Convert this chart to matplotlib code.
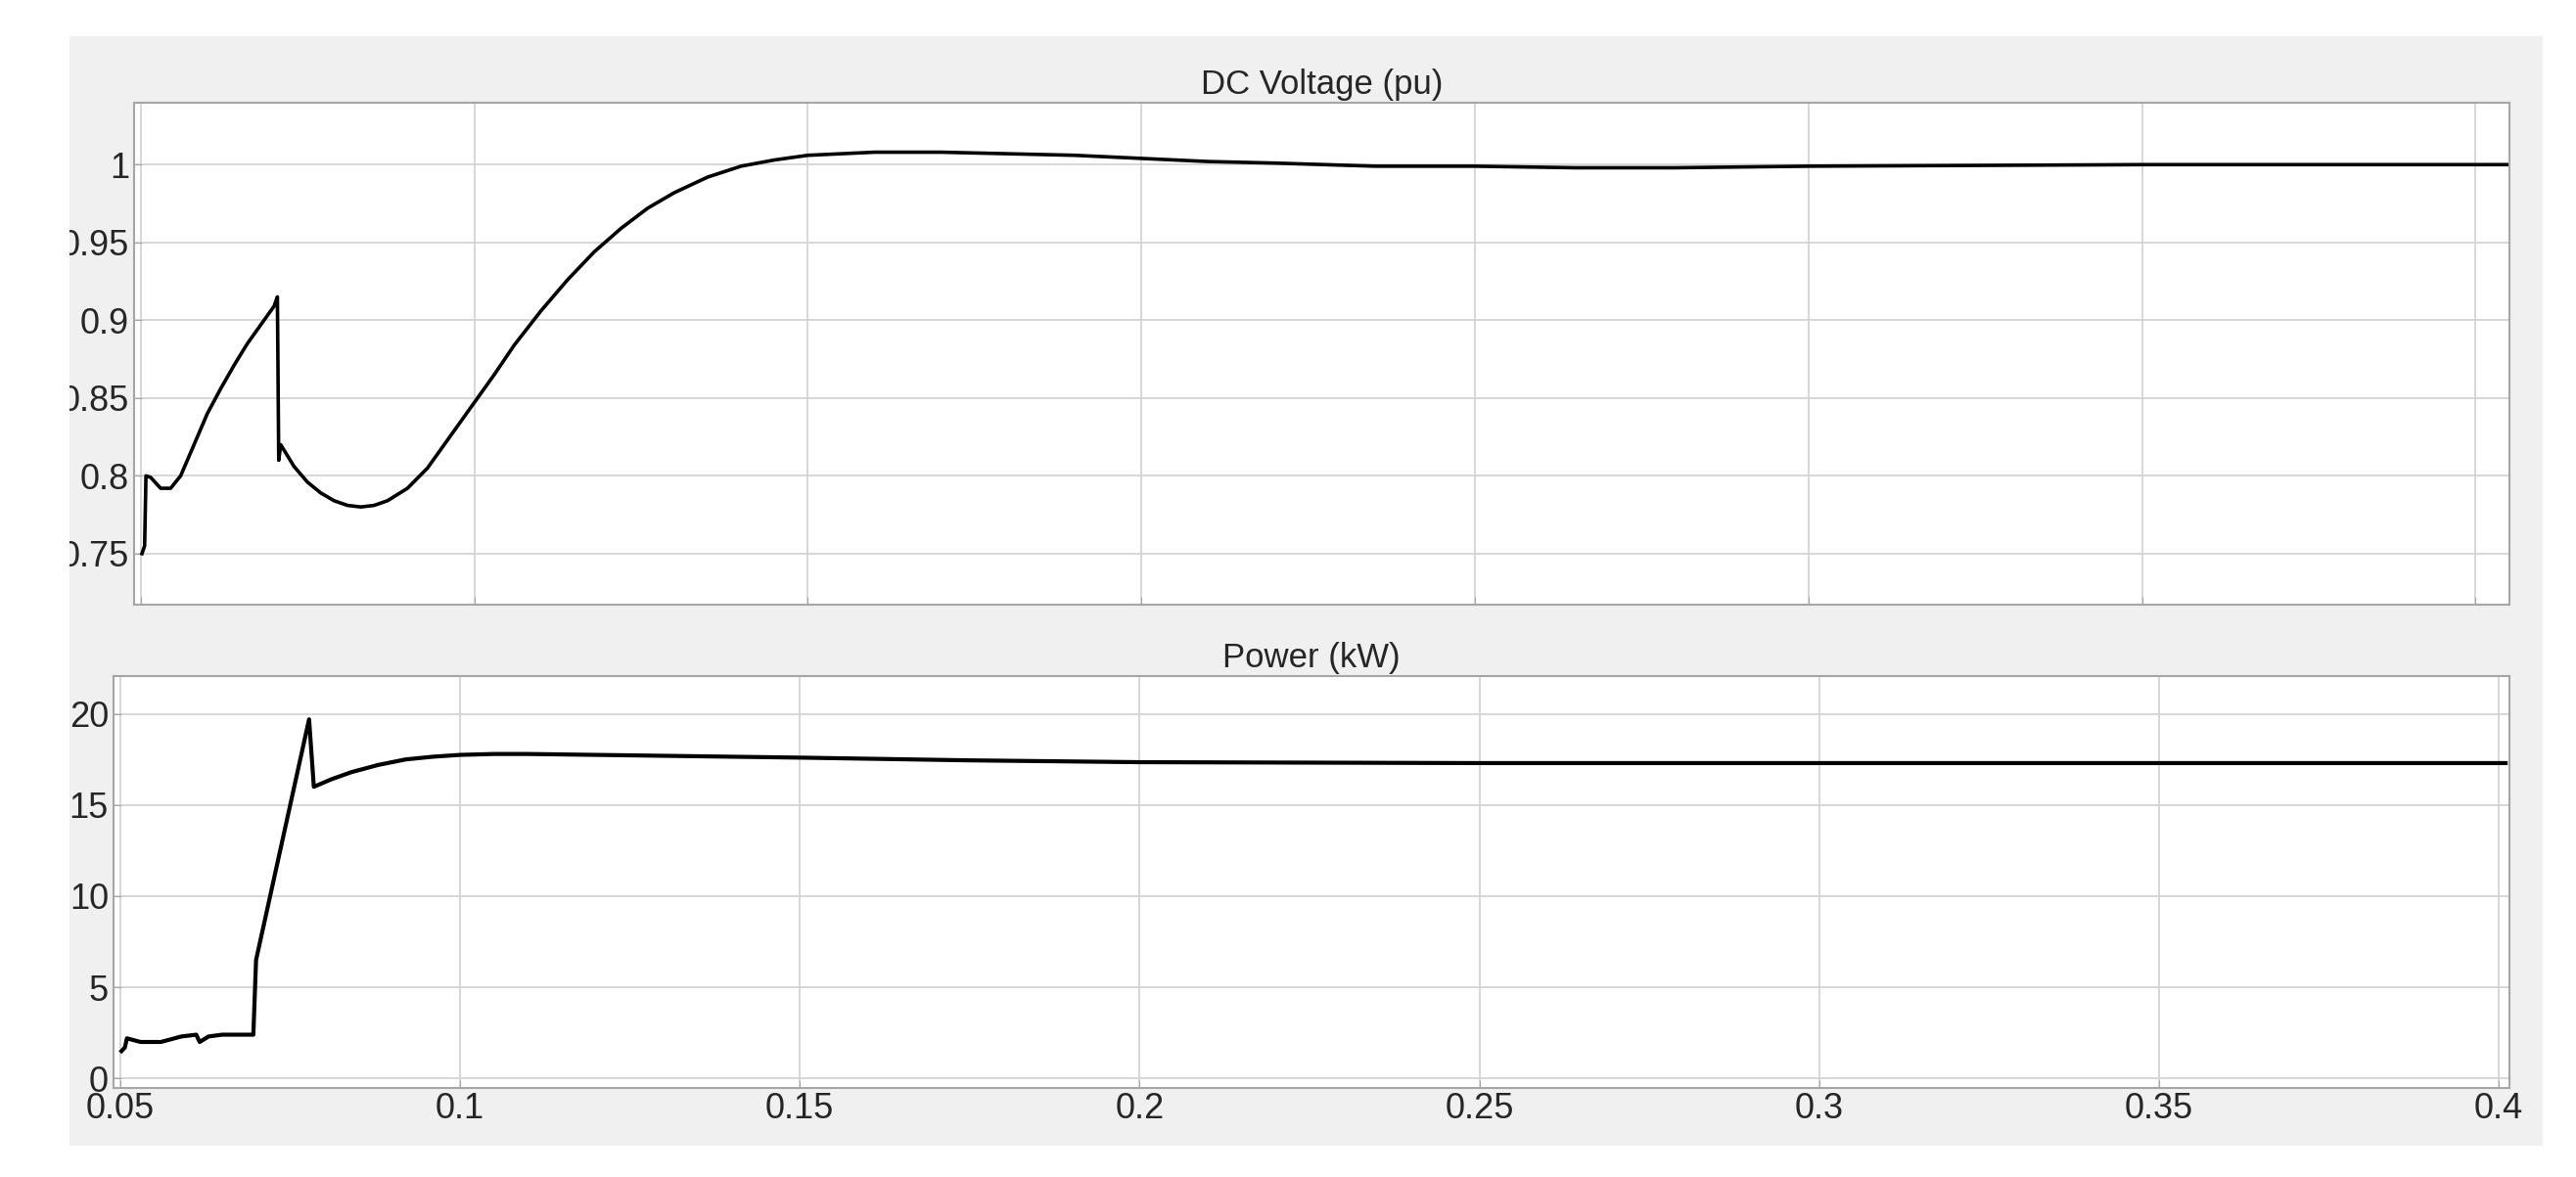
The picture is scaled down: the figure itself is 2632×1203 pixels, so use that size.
import matplotlib
matplotlib.use("Agg")
import matplotlib.pyplot as plt
from matplotlib.patches import Rectangle

plt.rcParams["font.family"] = ["Liberation Sans", "DejaVu Sans"]

# DC voltage (pu) samples
v_time = [0.0502, 0.0506, 0.0508, 0.0515, 0.053, 0.0545, 0.056, 0.058, 0.060, 0.062,
          0.064, 0.066, 0.068, 0.0700, 0.0705, 0.0707, 0.0710, 0.073, 0.075, 0.077,
          0.079, 0.081, 0.083, 0.085, 0.087, 0.090, 0.093, 0.096, 0.100, 0.103,
          0.106, 0.110, 0.114, 0.118, 0.122, 0.126, 0.130, 0.135, 0.140, 0.145,
          0.150, 0.155, 0.160, 0.170, 0.180, 0.190, 0.200, 0.210, 0.220, 0.235,
          0.250, 0.265, 0.280, 0.300, 0.350, 0.405]
v_pu = [0.750, 0.755, 0.800, 0.799, 0.792, 0.792, 0.800, 0.820, 0.840, 0.856,
        0.871, 0.885, 0.897, 0.909, 0.915, 0.810, 0.820, 0.806, 0.796, 0.789,
        0.784, 0.781, 0.780, 0.781, 0.784, 0.792, 0.805, 0.823, 0.847, 0.865,
        0.884, 0.906, 0.926, 0.944, 0.959, 0.972, 0.982, 0.992, 0.999, 1.003,
        1.006, 1.007, 1.008, 1.008, 1.007, 1.006, 1.004, 1.002, 1.001, 0.999,
        0.999, 0.998, 0.998, 0.999, 1.000, 1.000]

# Power (kW) samples
p_time = [0.0502, 0.0507, 0.051, 0.053, 0.056, 0.059, 0.0612, 0.0617, 0.063, 0.065,
          0.068, 0.0696, 0.0700, 0.0778, 0.0785, 0.081, 0.084, 0.088, 0.092, 0.096,
          0.100, 0.105, 0.110, 0.130, 0.150, 0.175, 0.200, 0.250, 0.300, 0.401]
p_kw = [1.5, 1.7, 2.2, 2.0, 2.0, 2.3, 2.4, 2.0, 2.3, 2.4,
        2.4, 2.4, 6.5, 19.7, 16.0, 16.4, 16.8, 17.2, 17.5, 17.65,
        17.75, 17.8, 17.8, 17.7, 17.6, 17.45, 17.35, 17.3, 17.3, 17.3]

x_ticks = [0.05, 0.1, 0.15, 0.2, 0.25, 0.3, 0.35, 0.4]
x_labels = ["0.05", "0.1", "0.15", "0.2", "0.25", "0.3", "0.35", "0.4"]
v_ticks = [0.75, 0.8, 0.85, 0.9, 0.95, 1.0]
v_labels = ["0.75", "0.8", "0.85", "0.9", "0.95", "1"]
p_ticks = [0, 5, 10, 15, 20]

fig = plt.figure(figsize=(26.32, 12.03), dpi=100, facecolor="white")
bg = Rectangle((0.027, 0.027), 0.96, 0.942, transform=fig.transFigure,
               facecolor="#f0f0f0", edgecolor="none", zorder=-10)
fig.patches.append(bg)

ax1 = fig.add_axes([0.052, 0.486, 0.922, 0.427])
ax2 = fig.add_axes([0.044, 0.076, 0.930, 0.350])


def style(ax):
    ax.set_facecolor("white")
    ax.grid(True, color="#d4d4d4", linewidth=1.3)
    ax.set_axisbelow(True)
    for spine in ax.spines.values():
        spine.set_color("#a6a6a6")
        spine.set_linewidth(1.5)
    ax.tick_params(direction="in", length=6, colors="#a6a6a6", labelcolor="#262626",
                   labelsize=26, top=False, right=False)


ax1.plot(v_time, v_pu, color="black", linewidth=2.6)
ax1.set_xlim(0.049, 0.405)
ax1.set_ylim(0.717, 1.040)
ax1.set_xticks(x_ticks)
ax1.set_xticklabels([])
ax1.set_yticks(v_ticks)
ax1.set_yticklabels(v_labels)
ax1.set_title("DC Voltage (pu)", fontsize=25, color="#262626", pad=6)
style(ax1)

ax2.plot(p_time, p_kw, color="black", linewidth=3.0)
ax2.set_xlim(0.049, 0.4015)
ax2.set_ylim(-0.5, 22.1)
ax2.set_xticks(x_ticks)
ax2.set_xticklabels(x_labels)
ax2.set_yticks(p_ticks)
ax2.set_title("Power (kW)", fontsize=25, color="#262626", pad=6)
style(ax2)

for lab in ax1.get_yticklabels() + ax2.get_yticklabels():
    lab.set_clip_path(bg)

fig.savefig("out.png", dpi=100, facecolor="white")
